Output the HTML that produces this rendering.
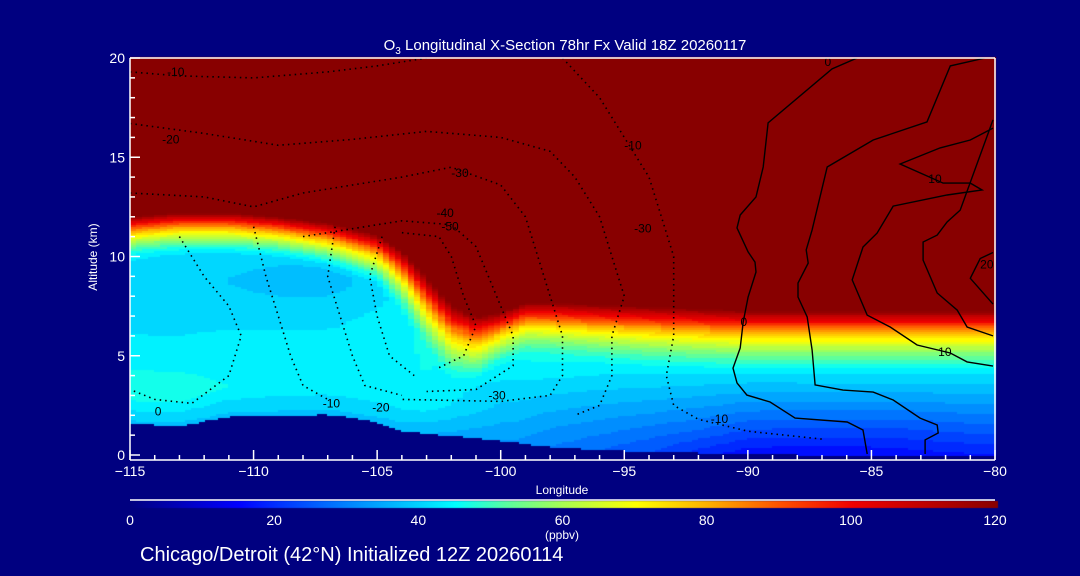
<!DOCTYPE html>
<html><head><meta charset="utf-8">
<style>
html,body{margin:0;padding:0;background:#000080;width:1080px;height:576px;overflow:hidden}
#wrap{position:relative;width:1080px;height:576px}
canvas{position:absolute;left:0;top:0}
svg{position:absolute;left:0;top:0}
text{font-family:"Liberation Sans",sans-serif;fill:#fff}
</style></head>
<body>
<div id="wrap">
<canvas id="heat" width="1080" height="576"></canvas>
<svg id="svg" width="1080" height="576"></svg>
</div>
<script>
// ---- data ----
const lons    = [-115,-113,-111,-109,-107,-105,-104,-103,-102,-101,-100,-99,-98,-96,-94,-92,-90,-88,-86,-84,-82,-80];
const tropKm  = [12.0,12.2,12.2,12.0,11.7,11.1,10.3,9.0,7.6,7.0,7.2,7.7,7.7,7.6,7.5,7.4,7.3,7.3,7.3,7.3,7.3,7.3];
const bandKm  = [2.2,2.2,2.2,2.2,2.4,2.7,3.2,3.9,4.0,3.5,2.8,2.8,2.9,3.1,3.2,3.2,3.2,3.2,3.2,3.2,3.2,3.2];
const terrainKm=[1.6,1.5,1.96,2.0,2.07,1.7,1.26,1.1,1.0,0.9,0.76,0.6,0.45,0.3,0.2,0.15,0.1,0.05,0.05,0.05,0.05,0.05];
const surfO3  = [38,38,38,38,38,38,37,36,35,34,33,32,30,27,24,20,16,15,15,16,17,18];
const lowO3   = [47,47,45,44,44,44,44,44,42,40,38,37,35,33,31,29,26,25,25,25,26,27];
const midO3   = [42,42,42,42,42,43,44,46,46,46,46,46,46,45,45,45,45,45,45,45,45,45];
const pocketO3= [0,2,3,4,4,3,1,0,0,0,0,0,0,0,0,0,0,0,0,0,0,0];
const xTicks  = [-115,-110,-105,-100,-95,-90,-85,-80];
const yTicks  = [0,5,10,15,20];
const cbTicks = [0,20,40,60,80,100,120];
const solidContours = [
 {lon:[-85.58,-86.59,-89.18,-89.38,-89.67,-90.31,-90.44,-89.99,-89.71,-89.67,-89.99,-90.19,-90.31,-90.6,-90.44,-90.04,-89.1,-88.09,-85.98,-85.34,-85.17],
  alt:[20,19.45,16.73,14.51,13.0,12.09,11.44,10.23,9.72,9.22,7.96,6.7,5.39,4.38,3.63,3.02,2.67,1.86,1.66,1.26,0.05]},
 {lon:[-80.4,-81.81,-82.75,-84.93,-86.79,-87.4,-87.64,-87.56,-87.97,-87.97,-87.6,-87.4,-87.28,-86.15,-84.93,-84.12,-83.03,-82.34,-82.3,-82.83,-82.83],
  alt:[20,19.6,16.78,15.87,14.51,11.34,10.33,9.67,8.66,7.96,6.95,5.29,3.53,3.27,3.17,2.77,1.86,1.51,1.11,0.76,0.05]},
 {lon:[-80.08,-81.0,-82.22,-83.84,-82.1,-81.0,-80.52,-81.94,-84.12,-84.77,-85.34,-85.78,-85.17,-84.24,-83.15,-81.81,-81.13,-80.08],
  alt:[16.47,15.87,15.47,14.66,13.7,13.7,13.35,13.1,12.54,11.18,10.48,8.82,7.05,6.45,5.54,5.14,4.69,4.48]},
 {lon:[-80.08,-81.41,-81.94,-82.34,-82.91,-82.91,-82.34,-81.53,-81.13,-80.08],
  alt:[16.88,12.34,11.74,11.08,10.73,9.82,8.16,7.3,6.45,6.0]},
 {lon:[-80.08,-80.6,-81.0,-80.08],alt:[10.2,9.9,8.9,7.6]}
];
const dottedContours = [
 {lon:[-115,-113,-110,-107,-105,-103],alt:[19.3,19.1,19.0,19.3,19.6,20]},
 {lon:[-115,-112,-109,-106,-103,-100,-98,-97,-96,-95.5,-95,-95.5,-95.5,-96,-97],alt:[16.7,16.2,15.6,15.9,16.3,16.0,15.3,14,12,10,8,6,4,2.5,2]},
 {lon:[-97.5,-96,-95,-94,-93.5,-93,-93,-93,-93.3,-93,-92,-90,-87],alt:[20,18,16,14,12,10,8,6,4,2.5,1.8,1.2,0.8]},
 {lon:[-115,-112,-110,-108,-106,-104,-102,-100,-99,-98.5,-98,-97.5,-97.5,-98,-100,-104],alt:[13.2,13.0,12.5,13.2,13.6,14.0,14.5,13.6,12,10,8,6,4,3,2.7,2.8]},
 {lon:[-108,-106.5,-104,-102,-101,-100.5,-100,-99.5,-99.5,-101,-103],alt:[11,11.3,11.8,11.6,10.5,9,7.5,6,4.5,3.3,3.2]},
 {lon:[-104,-102.5,-102,-101.5,-101,-101.5,-102.5],alt:[11.2,11,10,8,6.5,5,4.4]},
 {lon:[-113,-112,-111,-110.5,-111,-112.5,-114,-115],alt:[11,9,7.5,6,4,2.6,2.8,3.3]},
 {lon:[-110,-109.5,-109,-108.5,-108,-107],alt:[11.5,9,7,5,3.5,2.8]},
 {lon:[-106.7,-107,-106.5,-106,-105.5,-104],alt:[11.5,9,7,5,3.5,3]},
 {lon:[-104.8,-105.3,-105,-104.5,-103.5],alt:[11,9,7,5,4]}
];
const dottedLabels = [["-10",-113.5,19.1],["-20",-113.7,15.7],["-30",-102,14.0],["-40",-102.6,12.0],["-50",-102.4,11.3],["-10",-95,15.4],["-30",-94.6,11.2],["-30",-100.5,2.8],["-10",-107.2,2.4],["-20",-105.2,2.2],["-10",-91.5,1.6]];

// ---- axes ----
const X0=130,X1=995,YB=455,YT=58;
const xs=l=>X0+(l+115)/35*(X1-X0);
const ys=a=>YB-a/20*(YB-YT);
function interp(arr,l){
  if(l<=lons[0])return arr[0];
  for(let i=1;i<lons.length;i++){ if(l<=lons[i]){const t=(l-lons[i-1])/(lons[i]-lons[i-1]);return arr[i-1]+t*(arr[i]-arr[i-1]);} }
  return arr[arr.length-1];
}
const cstops=[[0,[0,0,128]],[15,[0,0,255]],[20,[0,45,255]],[30,[0,130,255]],[40,[0,210,255]],[45,[0,255,255]],[52,[90,255,160]],[60,[170,255,80]],[70,[255,255,0]],[80,[255,175,0]],[90,[255,80,0]],[100,[240,0,0]],[110,[190,0,0]],[120,[136,0,0]]];
function cmap(v){
  v=Math.max(0,Math.min(120,v));
  for(let i=1;i<cstops.length;i++){ if(v<=cstops[i][0]){const a=cstops[i-1],b=cstops[i];const t=(v-a[0])/(b[0]-a[0]);
    return `rgb(${Math.round(a[1][0]+t*(b[1][0]-a[1][0]))},${Math.round(a[1][1]+t*(b[1][1]-a[1][1]))},${Math.round(a[1][2]+t*(b[1][2]-a[1][2]))})`;}}
  return 'rgb(136,0,0)';
}
function trop(l,z){
  const te=interp(terrainKm,l),h=z-te;
  const s=interp(surfO3,l),lo=interp(lowO3,l),m=interp(midO3,l);
  let v;
  if(h<1.5) v=s+(lo-s)*h/1.5;
  else if(h<4.5) v=lo+(m-lo)*(h-1.5)/3;
  else v=m;
  const p=interp(pocketO3,l);
  v-=p*Math.exp(-Math.pow((z-8.8)/1.4,2));
  return v;
}
function o3(l,z){
  const tr=interp(tropKm,l),bd=interp(bandKm,l),te=interp(terrainKm,l);
  if(z<te) return null;
  if(z>=tr) return 120;
  const base=trop(l,z);
  if(z>=tr-bd){const f=(z-(tr-bd))/bd;return base+(120-base)*Math.pow(f,1.7);}
  return base;
}
// heatmap
const ctx=document.getElementById('heat').getContext('2d');
const dl=0.25,dz=0.1;
for(let l=-115;l<-80-1e-9;l+=dl){
  for(let z=0;z<20-1e-9;z+=dz){
    let v=o3(l+dl/2,z+dz/2); if(v===null) continue;
    v=Math.floor(v/3)*3+1.5;
    ctx.fillStyle=cmap(v);
    const x=xs(l),y=ys(z+dz);
    ctx.fillRect(Math.floor(x),Math.floor(y),Math.ceil(xs(l+dl)-x)+1,Math.ceil(ys(z)-y)+1);
  }
}
// colorbar
const cb=ctx.createLinearGradient(130,0,998,0);
cstops.forEach(s=>cb.addColorStop(s[0]/120,cmap(s[0])));
ctx.fillStyle=cb; ctx.fillRect(130,501,868,7);

// ---- svg ----
const svg=document.getElementById('svg');
const NS='http://www.w3.org/2000/svg';
function mk(tag,attrs,parent){const e=document.createElementNS(NS,tag);for(const k in attrs)e.setAttribute(k,attrs[k]);(parent||svg).appendChild(e);return e;}
function path(lon,alt){return lon.map((l,i)=>(i?'L':'M')+xs(l).toFixed(1)+','+ys(alt[i]).toFixed(1)).join('');}

const gd=mk('g',{});


dottedContours.forEach(c=>{
  const p=mk('path',{d:path(c.lon,c.alt),fill:'none',stroke:'#000','stroke-width':1.6,'stroke-dasharray':'1.5 4'},gd);
  
  
});
dottedLabels.forEach(d=>{
  const t=mk('text',{x:xs(d[1]),y:ys(d[2]),'font-size':12,style:'fill:#000'},gd);
  t.textContent=d[0];
  
  
});
const gs=mk('g',{});


solidContours.forEach(c=>{
  const p=mk('path',{d:path(c.lon,c.alt),fill:'none',stroke:'#000','stroke-width':1.4},gs);
  
  
});
[["0",-86.9,19.6],["10",-82.7,13.7],["10",-82.3,5.0],["20",-80.6,9.4],["0",-90.3,6.5],["0",-114,2.0]].forEach(d=>{
  const t=mk('text',{x:xs(d[1]),y:ys(d[2]),'font-size':12,style:'fill:#000'},gs);
  t.textContent=d[0];
  
  
});

// axes
const ax=mk('g',{stroke:'#fff','stroke-width':1.5,fill:'none'});


mk('line',{x1:X0,y1:460,x2:X1,y2:460},ax);
mk('line',{x1:X0,y1:58,x2:X1,y2:58},ax);
mk('line',{x1:X1,y1:58,x2:X1,y2:460},ax);
mk('line',{x1:X0,y1:58,x2:X0,y2:460},ax);
for(let l=-115;l<=-80;l++){const maj=xTicks.includes(l);mk('line',{x1:xs(l),y1:460,x2:xs(l),y2:460-(maj?10:5)},ax);}
for(let a=0;a<=20;a++){const maj=yTicks.includes(a);mk('line',{x1:X0,y1:ys(a),x2:X0+(maj?10:5),y2:ys(a)},ax);}
mk('line',{x1:130,y1:500,x2:995,y2:500},ax);
xTicks.forEach(l=>{const t=mk('text',{x:xs(l),y:476,'text-anchor':'middle','font-size':14});t.textContent=(l<0?'\u2212':'')+Math.abs(l);
  });
yTicks.forEach(a=>{const t=mk('text',{x:125,y:ys(a)+5,'text-anchor':'end','font-size':14});t.textContent=a;
  });
cbTicks.forEach(v=>{const t=mk('text',{x:130+v/120*865,y:525,'text-anchor':'middle','font-size':14});t.textContent=v;
  });
</script>
<svg width="1080" height="576" style="position:absolute;left:0;top:0">
<text x="565" y="50" text-anchor="middle" font-size="15">O<tspan font-size="10" dy="4">3</tspan><tspan dy="-4"> Longitudinal X-Section 78hr  Fx Valid 18Z 20260117</tspan></text>
<text x="97" y="257" text-anchor="middle" font-size="12" transform="rotate(-90 97 257)">Altitude (km)</text>
<text x="562" y="494" text-anchor="middle" font-size="12">Longitude</text>
<text x="562" y="539" text-anchor="middle" font-size="12">(ppbv)</text>
<text x="140" y="561" font-size="20">Chicago/Detroit (42°N) Initialized 12Z 20260114</text>
</svg>
</body></html>
